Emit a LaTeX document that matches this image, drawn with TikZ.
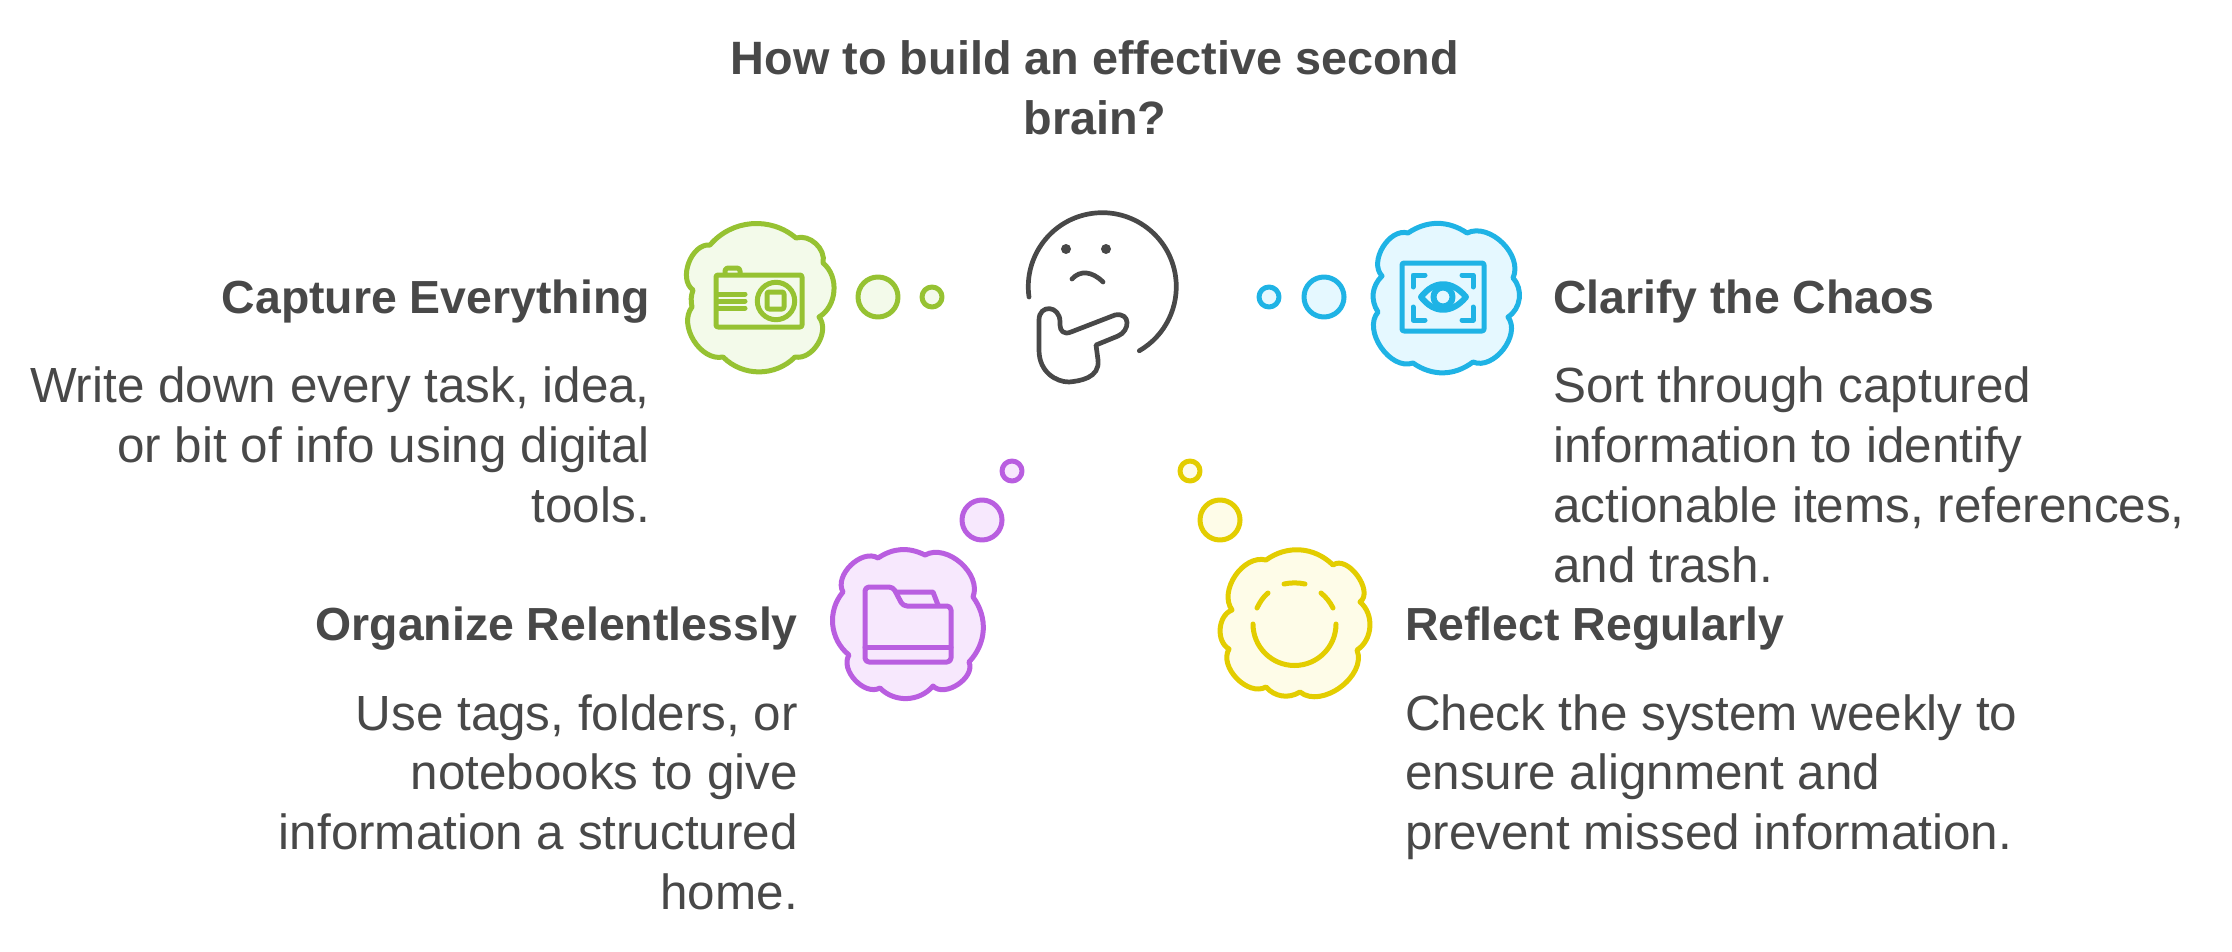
\documentclass[tikz,border=0pt]{standalone}
\usepackage{fontspec}
\setmainfont{Liberation Sans}
\usepackage{tikz}
\definecolor{ink}{HTML}{484848}
\definecolor{grn}{HTML}{96C232}
\definecolor{grnfill}{HTML}{F3FAEA}
\definecolor{blu}{HTML}{1FB3E5}
\definecolor{blufill}{HTML}{E5F8FF}
\definecolor{pur}{HTML}{B95EE0}
\definecolor{purfill}{HTML}{F7E8FD}
\definecolor{yel}{HTML}{E3CD00}
\definecolor{yelfill}{HTML}{FEFCE8}
\tikzset{
  line/.style={line width=5pt,line cap=round,line join=round},
  head/.style={text=ink,font=\fontsize{46.4}{60}\selectfont\bfseries,inner sep=0pt},
  body/.style={text=ink,font=\fontsize{49.4}{59.7}\selectfont,inner sep=0pt},
}
\begin{document}
\begin{tikzpicture}[x=1pt,y=-1pt]
\useasboundingbox (0,0) rectangle (2232,952);

\node[head,align=center,font=\fontsize{46.8}{60}\selectfont\bfseries] (title) at (1095,88) {How to build an effective second\\brain?};

\node[head,anchor=east] (capture) at (650,302) {Capture Everything};
\node[body,anchor=north east,align=right] (capturetxt) at (650,367) {Write down every task, idea,\\or bit of info using digital\\tools.};
\node[head,anchor=east] (organize) at (798,629) {Organize Relentlessly};
\node[body,anchor=north east,align=right] (organizetxt) at (798,694) {Use tags, folders, or\\notebooks to give\\information a structured\\home.};
\node[head,anchor=west] (clarify) at (1553,302) {Clarify the Chaos};
\node[body,anchor=north west,align=left] (clarifytxt) at (1553,367) {Sort through captured\\information to identify\\actionable items, references,\\and trash.};
\node[head,anchor=west] (reflect) at (1405,629) {Reflect Regularly};
\node[body,anchor=north west,align=left] (reflecttxt) at (1405,694) {Check the system weekly to\\ensure alignment and\\prevent missed information.};

\draw[line,grn,fill=grnfill] (710,245) to[bend left=45] (796,238) to[bend left=60] (823,263) to[bend left=55] (819,317) to[bend left=70] (795,357) to[bend left=45] (723,357) to[bend left=70] (692,307) to[bend left=15] (693,290) to[bend left=75] (710,245) -- cycle;
\draw[line,grn,fill=grnfill] (878,297) circle (20pt);
\draw[line,grn,fill=grnfill] (932,297) circle (10pt);
\draw[line,grn,rounded corners=2pt] (716,275) rectangle (802,327);
\draw[line,grn,rounded corners=3pt] (725,274) -- (725,268) -- (740,268) -- (740,274);
\draw[line,grn] (717,294) -- (745,294);
\draw[line,grn] (717,301) -- (745,301);
\draw[line,grn] (717,308) -- (745,308);
\draw[line,grn] (776,301) circle (18.7pt);
\draw[line,grn,rounded corners=2pt] (767,292) rectangle (784,309);

\draw[line,blu,fill=blufill] (1408,233) to[bend left=34] (1467,233) to[bend left=70] (1513,278) to[bend left=50] (1508,317) to[bend left=75] (1473,362) to[bend left=36] (1413,363) to[bend left=75] (1378,312) to[bend left=40] (1382,276) to[bend left=75] (1408,233) -- cycle;
\draw[line,blu,fill=blufill] (1324,297) circle (20pt);
\draw[line,blu,fill=blufill] (1269,297) circle (10pt);
\draw[line,blu,rounded corners=2pt] (1402,263) rectangle (1484,331);
\draw[line,blu] (1413,287) -- (1413,275) -- (1425,275);
\draw[line,blu] (1462,275) -- (1473,275) -- (1473,287);
\draw[line,blu] (1413,307) -- (1413,320) -- (1425,320);
\draw[line,blu] (1462,320) -- (1473,320) -- (1473,307);
\draw[line,blu,line width=6pt] (1421,297) .. controls (1434,280) and (1452,280) .. (1466,297) .. controls (1452,314) and (1434,314) .. (1421,297) -- cycle;
\draw[line,blu,line width=6pt] (1443,297) circle (9.5pt);

\draw[line,pur,fill=purfill] (878,558) to[bend left=30] (925,555) to[bend left=70] (973,597) to[bend left=40] (969,662) to[bend left=80] (933,686) to[bend left=48] (880,688) to[bend left=75] (849,655) to[bend left=46] (843,592) to[bend left=75] (878,558) -- cycle;
\draw[line,pur,fill=purfill] (982,520) circle (20pt);
\draw[line,pur,fill=purfill] (1012,471) circle (10pt);
\draw[line,pur,rounded corners=4pt] (865,587) -- (893,587) -- (903,606) -- (951,606) -- (951,662) -- (865,662) -- cycle;
\draw[line,pur] (865,647) -- (951,647);
\draw[line,pur] (897,592) -- (933,592) -- (938,605);

\draw[line,yel,fill=yelfill] (1266,560) to[bend left=40] (1333,565) to[bend left=90] (1360,602) to[bend left=54] (1357,650) to[bend left=75] (1300,692) to[bend left=40] (1266,687) to[bend left=75] (1229,649) to[bend left=65] (1232,610) to[bend left=70] (1266,560) -- cycle;
\draw[line,yel,fill=yelfill] (1220,520) circle (20pt);
\draw[line,yel,fill=yelfill] (1190,471) circle (10pt);
\draw[line,yel] (1253,624) arc[start angle=180,end angle=360,radius=41.5pt];
\draw[line,yel] (1284,584) .. controls (1291,582.5) and (1298,582.5) .. (1305,584);
\draw[line,yel] (1268,593) .. controls (1263,597) and (1260,602) .. (1257,608);
\draw[line,yel] (1321,593) .. controls (1326,597) and (1330,602) .. (1333,608);

\draw[line,ink,line width=4.7pt] (1029,297) arc[start angle=188,end angle=-60,radius=74pt];
\fill[ink] (1066,249) circle (5pt);
\fill[ink] (1106,249) circle (5pt);
\draw[line,ink,line width=4.7pt] (1072,279) .. controls (1080,270) and (1092,271) .. (1103,282);
\draw[line,ink,line width=4.7pt] (1096,345) -- (1118,336) .. controls (1130,331) and (1131,312) .. (1115,315) -- (1071,332) .. controls (1064,335) and (1060,331) .. (1060,325) -- (1060,322) .. controls (1060,305) and (1039,304) .. (1039,320) -- (1039,350) .. controls (1039,372) and (1056,382) .. (1069,382) .. controls (1080,381) and (1100,378) .. (1098,360) -- cycle;
\end{tikzpicture}
\end{document}
